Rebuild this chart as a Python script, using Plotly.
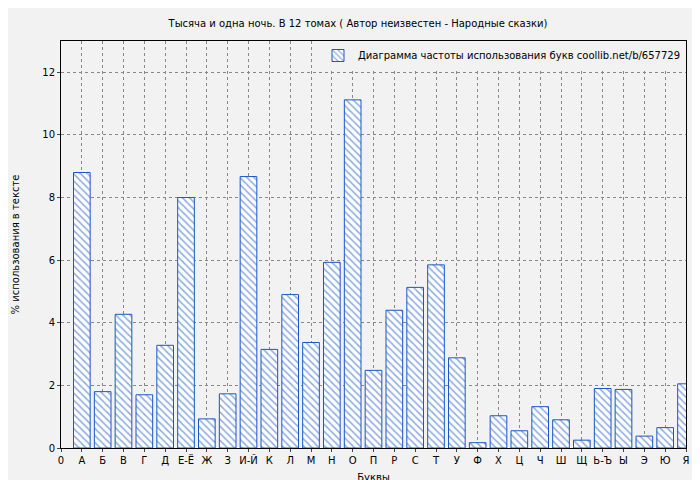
import plotly.graph_objects as go

letters = ["А","Б","В","Г","Д","Е-Ё","Ж","З","И-Й","К","Л","М","Н","О","П","Р","С","Т","У","Ф","Х","Ц","Ч","Ш","Щ","Ь-Ъ","Ы","Э","Ю","Я"]
values = [8.8,1.8,4.27,1.7,3.28,8.0,0.93,1.73,8.67,3.15,4.9,3.37,5.93,11.12,2.48,4.4,5.13,5.85,2.88,0.17,1.03,0.55,1.32,0.9,0.25,1.9,1.87,0.38,0.65,2.05]
positions = list(range(1, len(letters) + 1))
tick_vals = [0] + positions
tick_text = ["0"] + letters

blue = "#1a56c8"
fig = go.Figure(go.Bar(
    x=positions, y=values, width=0.8,
    name="Диаграмма частоты использования букв coollib.net/b/657729",
    marker=dict(color="white", line=dict(color=blue, width=1),
                pattern=dict(shape="\\", fgcolor=blue, bgcolor="white", size=5, solidity=0.3)),
))
axis_common = dict(showline=True, linecolor="black", mirror=True, ticks="outside", ticklen=3,
                   gridcolor="#888888", griddash="dot", zeroline=False, automargin=False,
                   tickfont=dict(size=10, color="black"))
fig.update_layout(
    width=700, height=480, paper_bgcolor="#f2f2f2", plot_bgcolor="#f2f2f2",
    margin=dict(l=53, r=22, t=33, b=40),
    font=dict(family="DejaVu Sans", size=10, color="black"),
    title=dict(text="Тысяча и одна ночь. В 12 томах ( Автор неизвестен - Народные сказки)",
               x=0.5, xanchor="center", y=0.975, font=dict(size=10)),
    showlegend=True,
    legend=dict(x=1, xanchor="right", y=1, yanchor="top", bgcolor="#f2f2f2",
                font=dict(size=10)),
    xaxis=dict(range=[0, 30], tickvals=tick_vals, ticktext=tick_text,
               title=dict(text="Буквы", font=dict(size=10), standoff=8), **axis_common),
    yaxis=dict(range=[0, 13], dtick=2,
               title=dict(text="% использования в тексте", font=dict(size=10), standoff=20), **axis_common),
)
fig.write_html("out.html")
